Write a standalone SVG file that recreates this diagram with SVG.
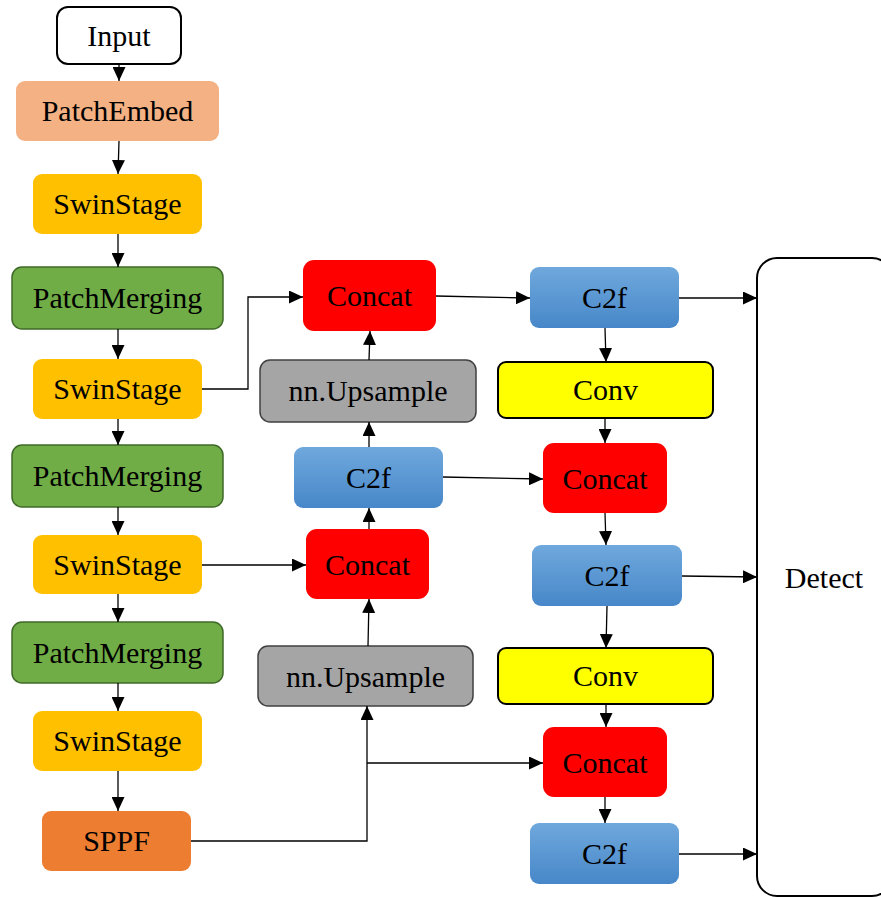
<svg xmlns="http://www.w3.org/2000/svg" width="881" height="897" viewBox="0 0 881 897">
<defs>
<linearGradient id="blue" x1="0" y1="0" x2="0" y2="1">
<stop offset="0" stop-color="#6FA8DC"/>
<stop offset="1" stop-color="#4787C9"/>
</linearGradient>
<marker id="arr" markerUnits="userSpaceOnUse" markerWidth="15" markerHeight="13" refX="14" refY="6.5" orient="auto">
<path d="M0,0 L14,6.5 L0,13 z" fill="#000"/>
</marker>
<style>
text{font-family:"Liberation Serif","Times New Roman",serif;font-size:30px;fill:#000;text-anchor:middle}
.input{fill:#fff;stroke:#000;stroke-width:2}
.embed{fill:#F4B183}
.swin{fill:#FFC000}
.merge{fill:#70AD47;stroke:#3F6A28;stroke-width:1.5}
.sppf{fill:#ED7D31}
.concat{fill:#FF0000}
.up{fill:#A5A5A5;stroke:#404040;stroke-width:1.5}
.c2f{fill:url(#blue)}
.conv{fill:#FFFF00;stroke:#000;stroke-width:2}
.detect{fill:#fff;stroke:#000;stroke-width:2}
.edge{fill:none;stroke:#000;stroke-width:1.3;marker-end:url(#arr)}
</style>
</defs>
<rect width="881" height="897" fill="#fff"/>
<g id="input"><rect class="input" x="57" y="7" width="124" height="57" rx="11"/><text x="119" y="46">Input</text></g>
<g id="patchembed"><rect class="embed" x="16" y="81" width="203" height="60" rx="9"/><text x="117.5" y="121">PatchEmbed</text></g>
<g id="swin1"><rect class="swin" x="33" y="174" width="169" height="60" rx="9"/><text x="117.5" y="214">SwinStage</text></g>
<g id="merge1"><rect class="merge" x="12" y="267" width="211" height="62" rx="10"/><text x="117.5" y="308">PatchMerging</text></g>
<g id="swin2"><rect class="swin" x="33" y="359" width="169" height="60" rx="9"/><text x="117.5" y="399">SwinStage</text></g>
<g id="merge2"><rect class="merge" x="12" y="445" width="211" height="62" rx="10"/><text x="117.5" y="486">PatchMerging</text></g>
<g id="swin3"><rect class="swin" x="33" y="535" width="169" height="59" rx="9"/><text x="117.5" y="575">SwinStage</text></g>
<g id="merge3"><rect class="merge" x="12" y="622" width="211" height="61" rx="10"/><text x="117.5" y="663">PatchMerging</text></g>
<g id="swin4"><rect class="swin" x="33" y="711" width="169" height="60" rx="9"/><text x="117.5" y="751">SwinStage</text></g>
<g id="sppf"><rect class="sppf" x="42" y="811" width="149" height="60" rx="9"/><text x="116.5" y="851">SPPF</text></g>
<g id="concat1"><rect class="concat" x="303" y="260" width="133" height="71" rx="11"/><text x="369.5" y="306">Concat</text></g>
<g id="upsample1"><rect class="up" x="260" y="360" width="216" height="62" rx="10"/><text x="368" y="401">nn.Upsample</text></g>
<g id="c2f1"><rect class="c2f" x="294" y="447" width="149" height="61" rx="9"/><text x="368.5" y="488">C2f</text></g>
<g id="concat2"><rect class="concat" x="306" y="529" width="123" height="70" rx="11"/><text x="367.5" y="575">Concat</text></g>
<g id="upsample2"><rect class="up" x="258" y="646" width="215" height="60" rx="10"/><text x="365.5" y="687">nn.Upsample</text></g>
<g id="c2f2"><rect class="c2f" x="530" y="267" width="149" height="61" rx="9"/><text x="604.5" y="308">C2f</text></g>
<g id="conv1"><rect class="conv" x="498" y="362" width="215" height="56" rx="8"/><text x="605.5" y="400">Conv</text></g>
<g id="concat3"><rect class="concat" x="543" y="443" width="124" height="70" rx="11"/><text x="605" y="489">Concat</text></g>
<g id="c2f3"><rect class="c2f" x="532" y="545" width="150" height="61" rx="9"/><text x="607" y="586">C2f</text></g>
<g id="conv2"><rect class="conv" x="498" y="648" width="215" height="56" rx="8"/><text x="605.5" y="686">Conv</text></g>
<g id="concat4"><rect class="concat" x="543" y="727" width="124" height="70" rx="11"/><text x="605" y="773">Concat</text></g>
<g id="c2f4"><rect class="c2f" x="530" y="823" width="149" height="61" rx="9"/><text x="604.5" y="864">C2f</text></g>
<g id="detect"><rect class="detect" x="757" y="258" width="135" height="638" rx="20"/><text x="824" y="588">Detect</text></g>
<g id="connectors">
<path class="edge" d="M119,64 V81"/>
<path class="edge" d="M119,141 L118,174"/>
<path class="edge" d="M118,234 V267"/>
<path class="edge" d="M118,329 V359"/>
<path class="edge" d="M118,419 V445"/>
<path class="edge" d="M118,507 V535"/>
<path class="edge" d="M118,594 V622"/>
<path class="edge" d="M118,683 V711"/>
<path class="edge" d="M118,771 V811"/>
<path class="edge" d="M202,389 H248 V297 H303"/>
<path class="edge" d="M202,565 H306"/>
<path class="edge" d="M191,841 H367 V706"/>
<path class="edge" d="M367,763 H543"/>
<path class="edge" d="M368,646 L369,599"/>
<path class="edge" d="M369,529 V508"/>
<path class="edge" d="M369,447 V422"/>
<path class="edge" d="M369,360 L370,331"/>
<path class="edge" d="M436,296 L530,298"/>
<path class="edge" d="M679,298 H757"/>
<path class="edge" d="M605,328 L606,362"/>
<path class="edge" d="M605,418 V443"/>
<path class="edge" d="M443,477 L543,479"/>
<path class="edge" d="M605,513 L606,545"/>
<path class="edge" d="M682,576 L757,577"/>
<path class="edge" d="M607,606 L606,648"/>
<path class="edge" d="M606,704 V727"/>
<path class="edge" d="M605,797 V823"/>
<path class="edge" d="M679,854 H757"/>
</g>
</svg>
